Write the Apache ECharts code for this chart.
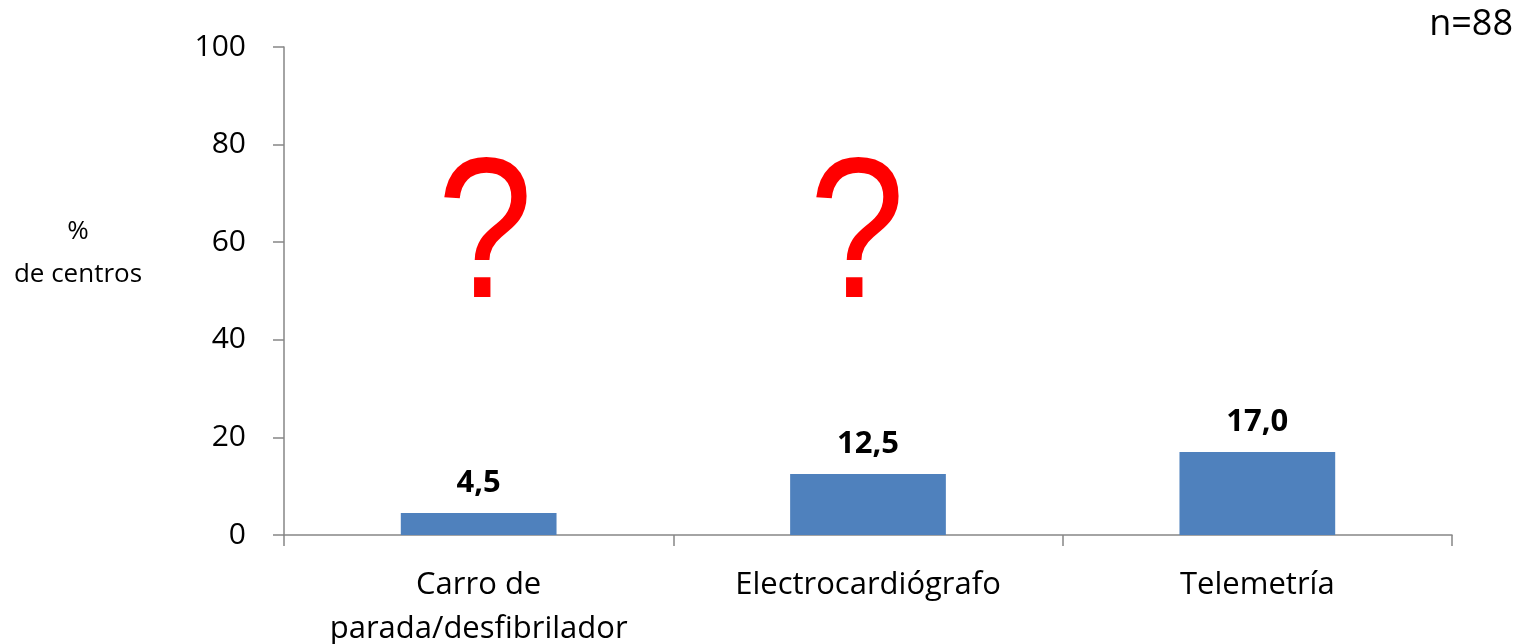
<!DOCTYPE html>
<html><head><meta charset="utf-8">
<script src="https://cdn.jsdelivr.net/npm/echarts@6/dist/echarts.min.js"></script>
<style>html,body{margin:0;padding:0;background:#fff}#c{width:1522px;height:644px}</style>
</head><body><div id="c"></div>
<script>
const categories = ['Carro de\nparada/desfibrilador', 'Electrocardiógrafo', 'Telemetría'];
const values = [4.5, 12.5, 17.0];
const yTicks = [0, 20, 40, 60, 80, 100];
const yNameLines = ['%', 'de centros'];
const note = 'n=88';
const FONT = '"Open Sans", sans-serif';
const QFONT = '200px "Liberation Sans", Arial, sans-serif';
const chart = echarts.init(document.getElementById('c'));
chart.setOption({
  animation: false,
  grid: {left: 284, right: 70, top: 47, bottom: 109, outerBoundsMode: 'none', containLabel: false},
  xAxis: {
    type: 'category', data: categories,
    axisLine: {lineStyle: {color: '#868686', width: 1.5}},
    axisTick: {show: true, length: 11, lineStyle: {color: '#868686', width: 1.5}},
    axisLabel: {color: '#000', fontSize: 31, fontFamily: FONT, margin: 28, lineHeight: 44}
  },
  yAxis: {
    type: 'value', min: yTicks[0], max: yTicks[yTicks.length - 1], interval: 20,
    splitLine: {show: false},
    axisLine: {show: true, lineStyle: {color: '#868686', width: 1.5}},
    axisTick: {show: true, length: 11, lineStyle: {color: '#868686', width: 1.5}},
    axisLabel: {color: '#000', fontSize: 30, fontFamily: FONT, margin: 38}
  },
  series: [{
    type: 'bar', data: values, barWidth: '40%',
    itemStyle: {color: '#4F81BD'},
    label: {show: true, position: 'top', distance: 14, color: '#000', fontWeight: 'bold',
      fontSize: 31, fontFamily: FONT,
      formatter: p => p.value.toFixed(1).replace('.', ',')}
  }],
  graphic: [
    {type: 'text', x: 78, y: 232, style: {text: yNameLines[0], fill: '#000', font: '26px ' + FONT, textAlign: 'center', textVerticalAlign: 'middle'}},
    {type: 'text', x: 78, y: 275, style: {text: yNameLines[1], fill: '#000', font: '26px ' + FONT, textAlign: 'center', textVerticalAlign: 'middle'}},
    {type: 'text', x: 1513, y: 25, style: {text: note, fill: '#000', font: '36px ' + FONT, textAlign: 'right', textVerticalAlign: 'middle'}},
    {type: 'text', x: 485, y: 142, scaleX: 0.86, style: {text: '?', fill: '#FF0000', font: QFONT, textAlign: 'center', textVerticalAlign: 'top'}},
    {type: 'text', x: 857, y: 142, scaleX: 0.86, style: {text: '?', fill: '#FF0000', font: QFONT, textAlign: 'center', textVerticalAlign: 'top'}}
  ]
});
</script></body></html>
